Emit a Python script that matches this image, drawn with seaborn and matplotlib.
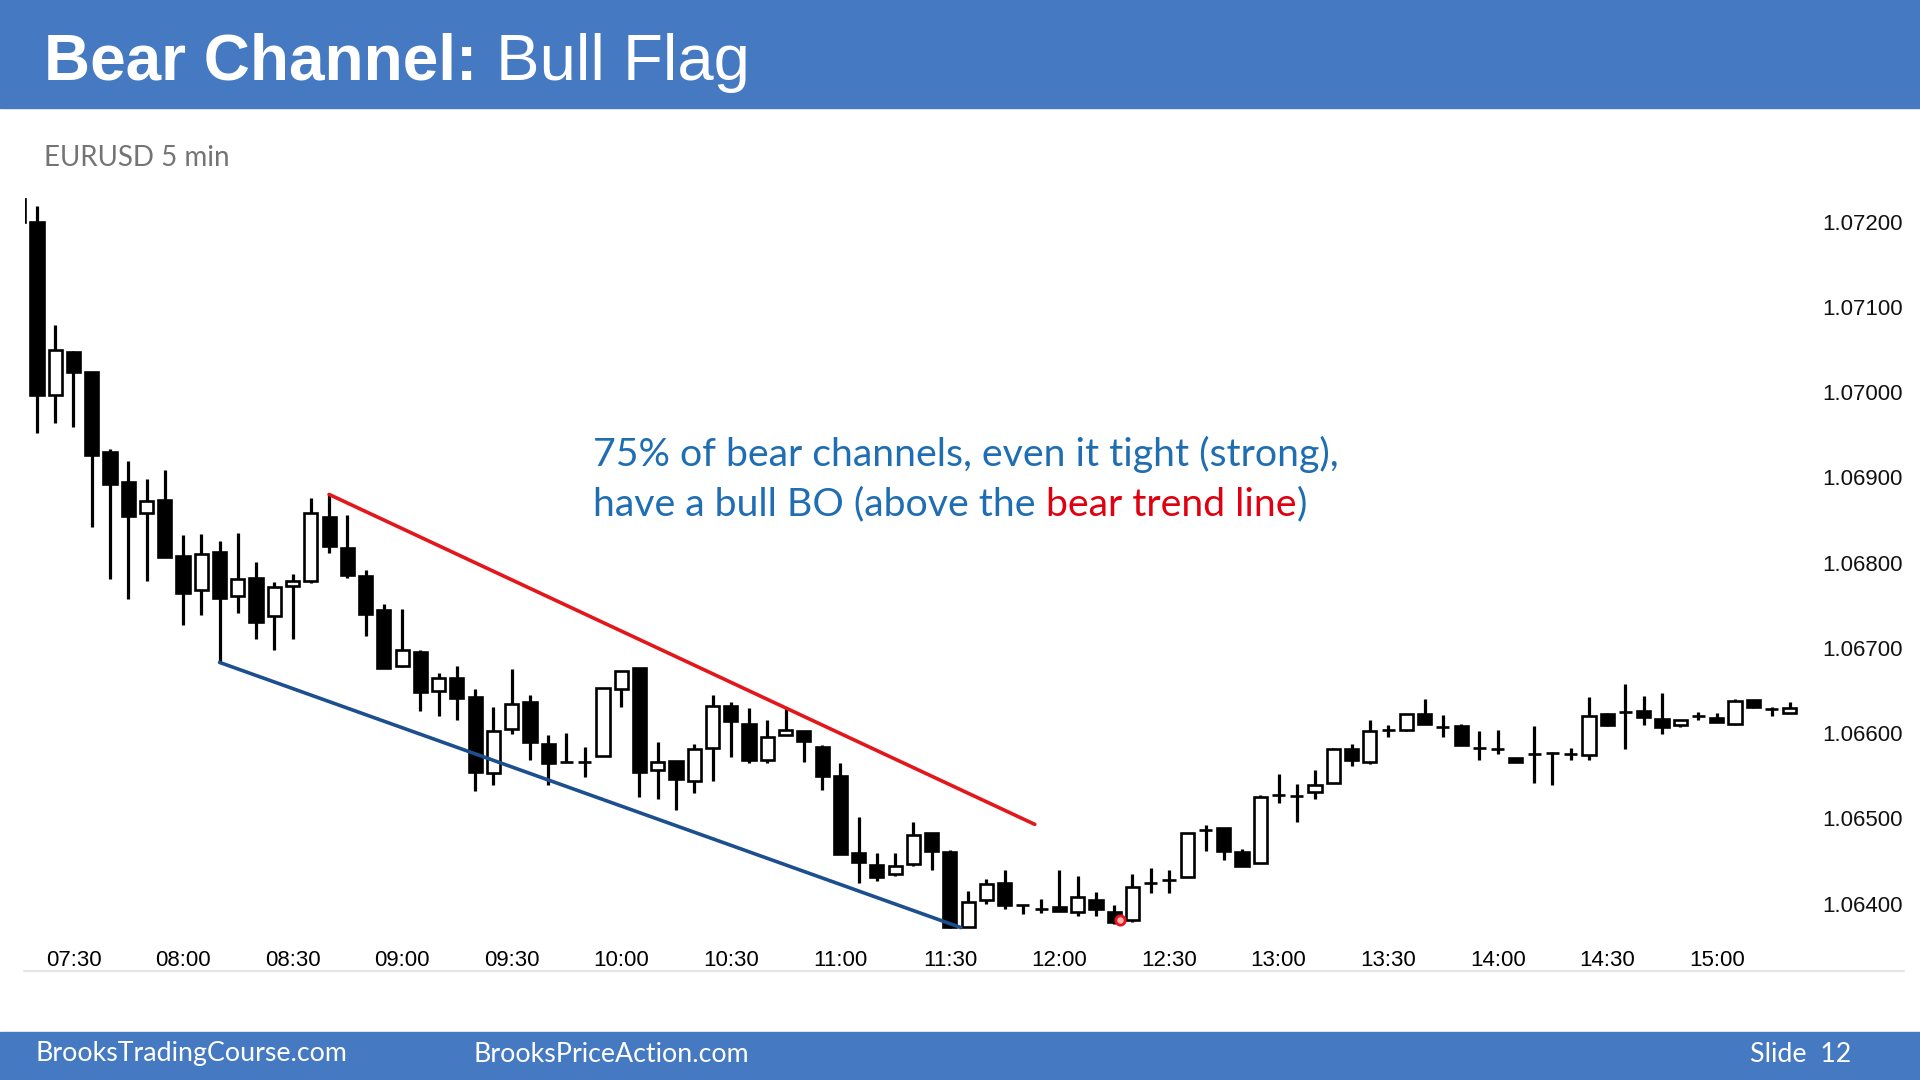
import numpy as np
import pandas as pd
import matplotlib.pyplot as plt
import seaborn as sns
from matplotlib.patches import Rectangle
from matplotlib.lines import Line2D

# EURUSD 5 min - ceny (pierwsza swieca jest przycieta)
opens = [1.07226, 1.07199, 1.06997, 1.07047, 1.07024, 1.06930, 1.06895, 1.06858, 1.06873, 1.06808,
         1.06768, 1.06812, 1.06761, 1.06782, 1.06738, 1.06773, 1.06778, 1.06854, 1.06817, 1.06784,
         1.06744, 1.06679, 1.06695, 1.06650, 1.06665, 1.06642, 1.06553, 1.06605, 1.06636, 1.06587,
         1.06566, 1.06566, 1.06573, 1.06652, 1.06677, 1.06557, 1.06567, 1.06544, 1.06583, 1.06632,
         1.06611, 1.06569, 1.06598, 1.06602, 1.06584, 1.06550, 1.06460, 1.06445, 1.06435, 1.06446,
         1.06483, 1.06461, 1.06373, 1.06404, 1.06424, 1.06398, 1.06394, 1.06396, 1.06390, 1.06404,
         1.06390, 1.06381, 1.06424, 1.06428, 1.06431, 1.06487, 1.06489, 1.06461, 1.06448, 1.06527,
         1.06526, 1.06531, 1.06541, 1.06581, 1.06566, 1.06604, 1.06604, 1.06622, 1.06607, 1.06608,
         1.06583, 1.06581, 1.06571, 1.06575, 1.06577, 1.06576, 1.06574, 1.06623, 1.06625, 1.06626,
         1.06617, 1.06609, 1.06620, 1.06618, 1.06611, 1.06639, 1.06628, 1.06624]
highs = [1.07226, 1.07218, 1.07079, 1.07048, 1.07024, 1.06933, 1.06919, 1.06898, 1.06909, 1.06832,
         1.06834, 1.06825, 1.06835, 1.06801, 1.06777, 1.06787, 1.06876, 1.06880, 1.06856, 1.06791,
         1.06751, 1.06746, 1.06697, 1.06671, 1.06679, 1.06652, 1.06631, 1.06675, 1.06645, 1.06598,
         1.06600, 1.06584, 1.06653, 1.06673, 1.06677, 1.06590, 1.06567, 1.06587, 1.06645, 1.06637,
         1.06629, 1.06616, 1.06630, 1.06602, 1.06586, 1.06565, 1.06502, 1.06460, 1.06460, 1.06496,
         1.06483, 1.06463, 1.06415, 1.06429, 1.06440, 1.06398, 1.06406, 1.06439, 1.06433, 1.06414,
         1.06398, 1.06435, 1.06442, 1.06439, 1.06483, 1.06492, 1.06489, 1.06464, 1.06528, 1.06552,
         1.06540, 1.06557, 1.06583, 1.06587, 1.06615, 1.06609, 1.06623, 1.06640, 1.06621, 1.06611,
         1.06603, 1.06604, 1.06571, 1.06608, 1.06578, 1.06583, 1.06642, 1.06624, 1.06658, 1.06643,
         1.06647, 1.06615, 1.06625, 1.06624, 1.06640, 1.06639, 1.06631, 1.06636]
lows = [1.07199, 1.06952, 1.06964, 1.06959, 1.06842, 1.06781, 1.06757, 1.06778, 1.06807, 1.06727,
        1.06739, 1.06683, 1.06741, 1.06710, 1.06697, 1.06710, 1.06776, 1.06811, 1.06782, 1.06714,
        1.06677, 1.06678, 1.06626, 1.06620, 1.06616, 1.06532, 1.06539, 1.06599, 1.06569, 1.06539,
        1.06566, 1.06548, 1.06573, 1.06631, 1.06525, 1.06523, 1.06510, 1.06530, 1.06544, 1.06572,
        1.06565, 1.06565, 1.06598, 1.06566, 1.06533, 1.06458, 1.06424, 1.06427, 1.06433, 1.06444,
        1.06439, 1.06371, 1.06373, 1.06400, 1.06394, 1.06388, 1.06389, 1.06391, 1.06386, 1.06385,
        1.06376, 1.06379, 1.06413, 1.06412, 1.06431, 1.06462, 1.06451, 1.06444, 1.06448, 1.06518,
        1.06496, 1.06523, 1.06541, 1.06561, 1.06564, 1.06595, 1.06603, 1.06611, 1.06596, 1.06586,
        1.06569, 1.06576, 1.06566, 1.06542, 1.06539, 1.06568, 1.06568, 1.06608, 1.06581, 1.06609,
        1.06599, 1.06607, 1.06616, 1.06613, 1.06609, 1.06629, 1.06620, 1.06624]
closes = [1.07199, 1.06997, 1.07049, 1.07024, 1.06926, 1.06892, 1.06855, 1.06872, 1.06807, 1.06764,
          1.06810, 1.06759, 1.06781, 1.06730, 1.06772, 1.06778, 1.06858, 1.06819, 1.06785, 1.06740,
          1.06677, 1.06697, 1.06648, 1.06665, 1.06641, 1.06555, 1.06602, 1.06634, 1.06590, 1.06565,
          1.06566, 1.06566, 1.06653, 1.06673, 1.06555, 1.06566, 1.06546, 1.06581, 1.06632, 1.06614,
          1.06568, 1.06595, 1.06604, 1.06591, 1.06550, 1.06458, 1.06449, 1.06431, 1.06444, 1.06481,
          1.06462, 1.06373, 1.06402, 1.06423, 1.06399, 1.06398, 1.06394, 1.06391, 1.06408, 1.06394,
          1.06379, 1.06420, 1.06424, 1.06428, 1.06483, 1.06487, 1.06462, 1.06444, 1.06525, 1.06527,
          1.06526, 1.06539, 1.06582, 1.06568, 1.06602, 1.06604, 1.06623, 1.06611, 1.06607, 1.06586,
          1.06583, 1.06581, 1.06566, 1.06575, 1.06577, 1.06576, 1.06620, 1.06609, 1.06625, 1.06619,
          1.06607, 1.06615, 1.06620, 1.06613, 1.06638, 1.06631, 1.06628, 1.06630]

# pozycje swiec: 0 = 07:30
bar_pos = list(range(-3, 95))
tick_pos = [0, 6, 12, 18, 24, 30, 36, 42, 48, 54, 60, 66, 72, 78, 84, 90]
tick_labels = ['07:30', '08:00', '08:30', '09:00', '09:30', '10:00', '10:30', '11:00',
               '11:30', '12:00', '12:30', '13:00', '13:30', '14:00', '14:30', '15:00']
price_ticks = [1.064, 1.065, 1.066, 1.067, 1.068, 1.069, 1.070, 1.071, 1.072]

# linie trendu
red_x = [14, 52.65]
red_y = [1.06880, 1.06493]
blue_x = [8, 48.6]
blue_y = [1.06683, 1.06372]

# kursor (czerwona kropka)
cursor_x = [57.3]
cursor_y = [1.06381]

df = pd.DataFrame({'x': bar_pos, 'open': opens, 'high': highs, 'low': lows, 'close': closes})
df['bull'] = df['close'] > df['open']
df['bottom'] = df[['open', 'close']].min(axis=1)
df['height'] = (df['close'] - df['open']).abs()

sns.set_style('white')
plt.rcParams['font.family'] = ['Liberation Sans', 'DejaVu Sans']

W, H = 1920, 1080
fig = plt.figure(figsize=(19.2, 10.8), dpi=100)
fig.patch.set_facecolor('white')

# naglowek i stopka
band = '#4579C2'
fig.add_artist(Rectangle((0, 1 - 108 / H), 1, 108 / H, transform=fig.transFigure, color=band, zorder=0))
fig.add_artist(Rectangle((0, 0), 1, 48 / H, transform=fig.transFigure, color=band, zorder=0))

ax = fig.add_axes([25 / W, 1 - 940 / H, (1800 - 25) / W, (940 - 195) / H])
ax.set_facecolor('white')

# knoty
ax.vlines(df['x'], df['low'], df['high'], color='black', linewidth=2.3, zorder=1)
# korpusy
face = np.where(df['bull'], 'white', 'black')
ax.bar(df['x'], df['height'], bottom=df['bottom'], width=0.72, color=face,
       edgecolor='black', linewidth=1.9, zorder=2)

# linie kanalu
line_df = pd.DataFrame({'x': red_x + blue_x, 'y': red_y + blue_y,
                        'line': ['red'] * 2 + ['blue'] * 2})
sns.lineplot(data=line_df, x='x', y='y', hue='line',
             palette={'red': '#E3161B', 'blue': '#1D4F8F'},
             linewidth=2.6, legend=False, ax=ax, zorder=3)

ax.scatter(cursor_x, cursor_y, s=45, facecolor='#ffb3b3', edgecolor='#e8141c',
           linewidth=2, zorder=5)

ax.set_xlim(-2.655, 94.56)
ax.set_ylim(1.063574, 1.072312)
ax.set_xlabel('')
ax.set_ylabel('')
for s in ax.spines.values():
    s.set_visible(False)

ax.set_xticks(tick_pos)
ax.set_xticklabels(tick_labels, fontsize=16)
ax.yaxis.tick_right()
ax.set_yticks(price_ticks)
ax.set_yticklabels([f'{p:.5f}' for p in price_ticks], fontsize=16, ha='left')
ax.tick_params(axis='x', length=0, pad=7, colors='black')
ax.tick_params(axis='y', length=0, pad=16, colors='#111111')

# cienka szara linia pod osia czasu
fig.add_artist(Line2D([24 / W, 1904 / W], [1 - 971 / H] * 2, color='#e4e4e4', linewidth=1.5))

# tytul
fig.text(44 / W, 1 - 80 / H, 'Bear Channel:', color='white', fontsize=46,
         fontweight='bold', va='baseline')
fig.text(496 / W, 1 - 80 / H, 'Bull Flag', color='white', fontsize=47, va='baseline')

fig.text(44 / W, 1 - 158 / H, 'EURUSD 5 min', color='#747474', fontsize=20,
         family='Lato', va='center')

# opis
blue_txt = '#1F6DB3'
red_txt = '#E0000F'
fig.text(593 / W, 1 - 454 / H, '75% of bear channels, even it tight (strong),',
         color=blue_txt, fontsize=28.3, family='Lato', va='center')
renderer = fig.canvas.get_renderer()
x0 = 593
y2 = 1 - 504.5 / H
parts = [('have a bull BO (above the', blue_txt, 10), ('bear trend line', red_txt, 1), (')', blue_txt, 0)]
for txt, col, gap in parts:
    t = fig.text(x0 / W, y2, txt, color=col, fontsize=28.3, family='Lato', va='center')
    bb = t.get_window_extent(renderer)
    x0 = bb.x1 + gap

# stopka
fig.text(35 / W, 26 / H, 'BrooksTradingCourse.com', color='white', fontsize=19.3, family='Lato', va='center')
fig.text(474 / W, 26 / H, 'BrooksPriceAction.com', color='white', fontsize=19.3, family='Lato', va='center')
fig.text(1851 / W, 26 / H, 'Slide  12', color='white', fontsize=19.3, family='Lato', va='center', ha='right')

fig.savefig('out.png', dpi=100, facecolor='white')
